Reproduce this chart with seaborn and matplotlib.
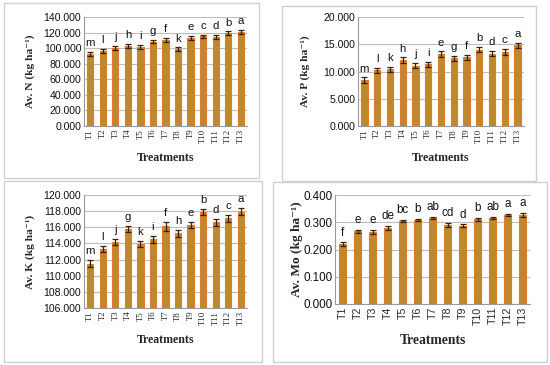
import matplotlib
matplotlib.use("Agg")
import matplotlib.pyplot as plt
from matplotlib.patches import Rectangle
from matplotlib.ticker import FormatStrFormatter, FixedLocator
import seaborn as sns
import numpy as np
import pandas as pd

treatments = ["T1", "T2", "T3", "T4", "T5", "T6", "T7", "T8", "T9", "T10", "T11", "T12", "T13"]

n_vals = [93.0, 96.0, 100.0, 103.0, 101.5, 108.5, 111.0, 98.5, 113.0, 115.0, 114.0, 119.0, 121.0]
n_err = [2.5, 2.5, 2.5, 2.5, 2.5, 2.5, 2.5, 2.5, 2.5, 2.5, 2.5, 2.5, 2.5]
n_letters = ["m", "l", "j", "h", "i", "g", "f", "k", "e", "c", "d", "b", "a"]

p_vals = [8.4, 10.2, 10.4, 12.1, 11.1, 11.3, 13.2, 12.4, 12.6, 14.0, 13.3, 13.6, 14.8]
p_err = [0.5, 0.5, 0.5, 0.5, 0.5, 0.5, 0.5, 0.5, 0.5, 0.5, 0.5, 0.5, 0.5]
p_letters = ["m", "l", "k", "h", "j", "i", "e", "g", "f", "b", "d", "c", "a"]

k_vals = [111.5, 113.3, 114.2, 115.8, 113.9, 114.5, 116.1, 115.25, 116.3, 117.9, 116.6, 117.1, 117.95]
k_err = [0.4, 0.4, 0.4, 0.4, 0.4, 0.4, 0.5, 0.4, 0.4, 0.4, 0.4, 0.4, 0.4]
k_letters = ["m", "l", "j", "g", "k", "i", "f", "h", "e", "b", "d", "c", "a"]

mo_vals = [0.219, 0.267, 0.265, 0.280, 0.305, 0.308, 0.317, 0.290, 0.288, 0.311, 0.317, 0.327, 0.328]
mo_err = [0.007, 0.005, 0.008, 0.007, 0.003, 0.003, 0.004, 0.007, 0.004, 0.006, 0.004, 0.004, 0.007]
mo_letters = ["f", "e", "e", "de", "bc", "b", "ab", "cd", "d", "b", "ab", "a", "a"]

W, H = 550, 365
sns.set_theme(style="white")
plt.rcParams["font.family"] = ["Liberation Sans", "DejaVu Sans"]

fig = plt.figure(figsize=(W / 100, H / 100), dpi=100)
fig.patch.set_facecolor("white")

SERIF = ["Liberation Serif", "DejaVu Serif"]
BAR = "#BC892D"
EDGE = "#E27C2A"
ERR = "#3A2010"
GRID = "#BDBDBD"

# panel frames
for (x0, y0, x1, y1) in [(4, 3, 259, 178), (282, 6, 536, 181), (4, 181, 262, 362), (273, 182, 547, 362)]:
    fig.patches.append(Rectangle((x0 / W, 1 - y1 / H), (x1 - x0) / W, (y1 - y0) / H,
                                 transform=fig.transFigure, fill=False,
                                 edgecolor="#D0D0D0", lw=1.0))


def panel(box, vals, errs, letters, ylim, step, ylabel, ylab_x, xlab_y,
          yfs=7.6, labfs=8.2, xtfs=6.3, xt_serif=True, lettfs=8.2, xlabfs=8.6):
    l, t, r, b = box
    ax = fig.add_axes([l / W, 1 - b / H, (r - l) / W, (b - t) / H])
    df = pd.DataFrame({"Treatment": treatments, "Value": vals})
    sns.barplot(data=df, x="Treatment", y="Value", ax=ax, color=BAR,
                saturation=1, width=0.5, edgecolor=EDGE, linewidth=0.8,
                errorbar=None, zorder=3)
    xs = np.arange(len(treatments))
    ax.errorbar(xs, vals, yerr=errs, fmt="none", ecolor=ERR, elinewidth=0.9,
                capsize=2.2, capthick=0.9, zorder=4)
    span = ylim[1] - ylim[0]
    for x, v, e, s in zip(xs, vals, errs, letters):
        ax.text(x, v + e + span * 0.035, s, ha="center", va="bottom",
                fontsize=lettfs, color="#111111", zorder=5, clip_on=False)
    ax.set_ylim(*ylim)
    ax.set_xlim(-0.5, len(treatments) - 0.5)
    ax.set_yticks(np.arange(ylim[0], ylim[1] + step / 2, step))
    ax.yaxis.set_major_formatter(FormatStrFormatter("%.3f"))
    ax.yaxis.grid(True, color=GRID, lw=0.8, zorder=0)
    ax.set_axisbelow(True)
    for sp in ["top", "right"]:
        ax.spines[sp].set_visible(False)
    for sp in ["left", "bottom"]:
        ax.spines[sp].set_color("#9A9A9A")
        ax.spines[sp].set_linewidth(0.8)
    ax.tick_params(axis="y", labelsize=yfs, length=0, pad=2, colors="#111111")
    ax.tick_params(axis="x", length=0, pad=2)
    ax.xaxis.set_minor_locator(FixedLocator(np.arange(-0.5, len(treatments), 1.0)))
    ax.tick_params(axis="x", which="minor", length=3, color="#9A9A9A", width=0.8)
    for lab in ax.get_xticklabels():
        lab.set_rotation(90)
        lab.set_fontsize(xtfs)
        if xt_serif:
            lab.set_family(SERIF)
    ax.set_xlabel("")
    ax.set_ylabel("")
    # axis titles in figure pixel coordinates
    fig.text(ylab_x / W, 1 - ((t + b) / 2) / H, ylabel, rotation=90,
             ha="center", va="center", fontsize=labfs, fontweight="bold",
             family=SERIF)
    fig.text(((l + r) / 2) / W, 1 - xlab_y / H, "Treatments", ha="center",
             va="center", fontsize=xlabfs, fontweight="bold", family=SERIF)
    return ax


panel((84, 17, 247, 126), n_vals, n_err, n_letters, (0, 140), 20,
      "Av. N (kg ha\u207b\u00b9)", 30, 158)
panel((358, 17, 524, 126), p_vals, p_err, p_letters, (0, 20), 5,
      "Av. P (kg ha\u207b\u00b9)", 305, 158)
panel((84, 195, 247, 308), k_vals, k_err, k_letters, (106, 120), 2,
      "Av. K (kg ha\u207b\u00b9)", 30, 340)
panel((335, 195, 530, 304), mo_vals, mo_err, mo_letters, (0, 0.4), 0.1,
      "Av. Mo (kg ha\u207b\u00b9)", 297, 341, yfs=8.4, labfs=9.6, xtfs=7.6,
      xt_serif=False, lettfs=8.4, xlabfs=9.8)

fig.savefig("out.png", dpi=100, facecolor="white")
